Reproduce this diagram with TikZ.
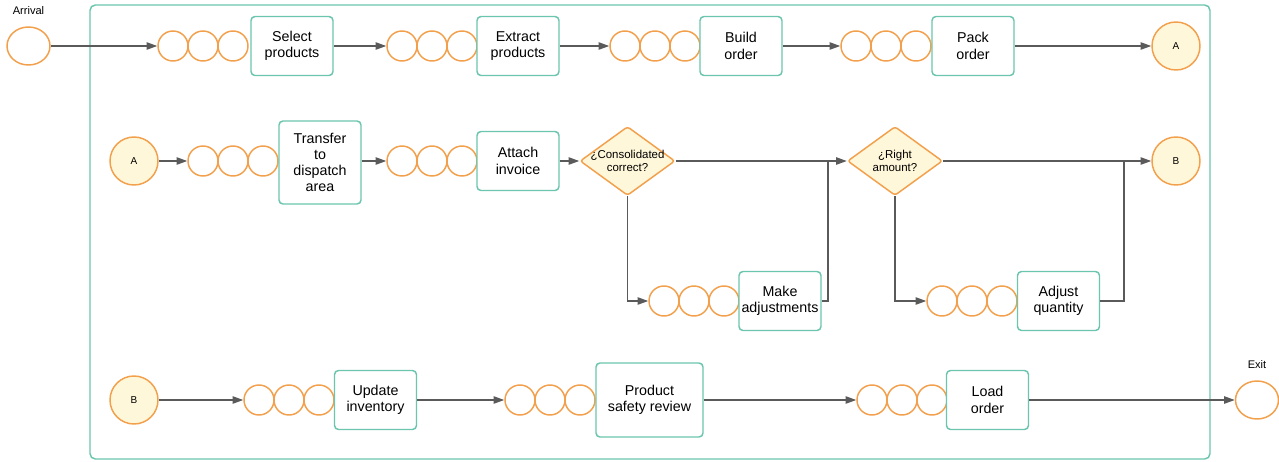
\documentclass[tikz,border=0pt]{standalone}
\usepackage{fontspec}
\setmainfont{Liberation Sans}
\usetikzlibrary{shapes.geometric,arrows.meta}
\definecolor{qorange}{HTML}{F2A04C}
\definecolor{qfill}{HTML}{FFF7D9}
\definecolor{qteal}{HTML}{6CC5AE}
\definecolor{qgray}{HTML}{5A5A5A}
\begin{document}
\begin{tikzpicture}[x=0.75pt,y=-0.75pt,
  every node/.style={font=\fontsize{10.7}{12.2}\selectfont},
  qc/.style={circle,draw=qorange,line width=1.1pt,fill=white,minimum size=22.5pt,inner sep=0pt},
  conn/.style={circle,draw=qorange,line width=1.1pt,fill=qfill,minimum size=36pt,inner sep=0pt,font=\fontsize{7.5}{8}\selectfont},
  term/.style={ellipse,draw=qorange,line width=1.1pt,fill=white,minimum width=32.25pt,minimum height=28.5pt,inner sep=0pt},
  task/.style={draw=qteal,line width=1.1pt,rounded corners=3pt,fill=white,minimum width=61.5pt,minimum height=44.25pt,align=center,inner sep=1pt},
  dec/.style={diamond,draw=qorange,line width=1.1pt,fill=qfill,minimum width=71.25pt,minimum height=51.75pt,inner sep=0pt,rounded corners=2pt},
  dectext/.style={align=center,font=\fontsize{8.6}{10}\selectfont},
  small/.style={font=\fontsize{8.3}{9}\selectfont},
  flow/.style={draw=qgray,line width=1.1pt,-{Triangle[length=8pt,width=5.5pt]}},
  plain/.style={draw=qgray,line width=1.1pt}
]
\useasboundingbox (0,0) rectangle (1279,461);
\draw[qteal,line width=1.1pt,rounded corners=4pt] (90,5) rectangle (1210,459);

% row 1
\node[term] (arr) at (28.5,46) {};
\node[small] (arrlbl) at (28.5,11) {Arrival};
\foreach \n/\x in {1/173,2/402,3/625,4/856}{
  \node[qc] (q\n a) at (\x,46) {};
  \node[qc] (q\n b) at (\x+30,46) {};
  \node[qc] (q\n c) at (\x+60,46) {};
}
\node[task] (select) at (292,46) {Select\\products};
\node[task] (extract) at (518,46) {Extract\\products};
\node[task] (build) at (741,46) {Build\\order};
\node[task] (pack) at (973,46) {Pack\\order};
\node[conn] (A1) at (1176,46) {A};

% row 2
\node[conn] (A2) at (134,161) {A};
\foreach \n/\x/\y in {5/203/161,6/402/161,7/664/301,8/942/301}{
  \node[qc] (q\n a) at (\x,\y) {};
  \node[qc] (q\n b) at (\x+30,\y) {};
  \node[qc] (q\n c) at (\x+60,\y) {};
}
\node[task,minimum height=62.25pt] (transfer) at (320,162.5) {Transfer\\to\\dispatch\\area};
\node[task] (attach) at (518,161) {Attach\\invoice};
\node[dec] (d1) at (627.5,161) {};
\node[dectext] (d1t) at (627.5,161) {¿Consolidated\\correct?};
\node[task] (make) at (780,301) {Make\\adjustments};
\node[dec] (d2) at (895,161) {};
\node[dectext] (d2t) at (895,161) {¿Right\\amount?};
\node[task] (adjust) at (1058.5,301) {Adjust\\quantity};
\node[conn] (B1) at (1176,161) {B};
\coordinate (j1) at (828,161);
\coordinate (j2) at (1124,161);

% row 3
\node[conn] (B2) at (134,400) {B};
\foreach \n/\x in {10/259,11/520,12/872}{
  \node[qc] (q\n a) at (\x,400) {};
  \node[qc] (q\n b) at (\x+30,400) {};
  \node[qc] (q\n c) at (\x+60,400) {};
}
\node[task] (update) at (375.5,400) {Update\\inventory};
\node[task,minimum width=80.25pt,minimum height=55.5pt] (psr) at (649.5,400) {Product\\safety review};
\node[task] (load) at (987.5,400) {Load\\order};
\node[term] (exit) at (1257,400) {};
\node[small] (exitlbl) at (1257,365) {Exit};

% connectors
\draw[flow] (arr) -- (q1a);
\draw[flow] (select) -- (q2a);
\draw[flow] (extract) -- (q3a);
\draw[flow] (build) -- (q4a);
\draw[flow] (pack) -- (A1);

\draw[flow] (A2) -- (q5a);
\draw[flow] (transfer.east |- q6a) -- (q6a);
\draw[flow] (attach) -- (d1);
\draw[flow] (d1.east) -- (d2.west);
\draw[flow] (d1.south) |- (q7a);
\draw[plain] (make.east) -| (j1);
\draw[flow] (d2.east) -- (B1);
\draw[flow] (d2.south) |- (q8a);
\draw[plain] (adjust.east) -| (j2);

\draw[flow] (B2) -- (q10a);
\draw[flow] (update) -- (q11a);
\draw[flow] (psr) -- (q12a);
\draw[flow] (load) -- (exit);
\end{tikzpicture}
\end{document}
